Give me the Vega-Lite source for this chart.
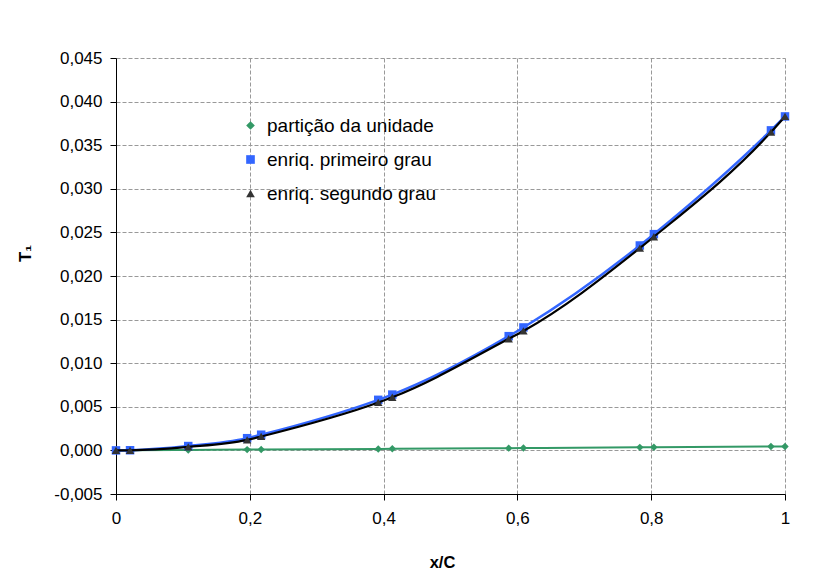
{
  "$schema": "https://vega.github.io/schema/vega-lite/v6.json",
  "width": 669,
  "height": 436,
  "autosize": {"type": "none"},
  "padding": {"left": 116, "top": 58, "right": 37, "bottom": 78},
  "background": "white",
  "config": {
    "locale": {"number": {"decimal": ",", "thousands": ".", "grouping": [3], "currency": ["", ""], "minus": "-"}},
    "view": {"stroke": null},
    "font": "Liberation Sans",
    "axis": {
      "domainColor": "#000000",
      "domainWidth": 1,
      "tickColor": "#000000",
      "tickSize": 6,
      "labelColor": "#000000",
      "labelFont": "Liberation Sans",
      "labelFontSize": 17,
      "titleFont": "Liberation Sans",
      "titleFontWeight": "bold",
      "titleFontSize": 16.5,
      "titleColor": "#000000",
      "gridColor": "#999999",
      "gridDash": [4, 2],
      "gridWidth": 1,
      "labelFlush": false,
      "labelOverlap": false
    },
    "legend": {
      "orient": "none",
      "legendX": 125,
      "legendY": 58,
      "padding": 0,
      "labelFont": "Liberation Sans",
      "labelFontSize": 19,
      "labelColor": "#000000",
      "labelLimit": 400,
      "symbolSize": 75,
      "symbolStrokeWidth": 0,
      "rowPadding": 14,
      "labelOffset": 7
    }
  },
  "datasets": {
    "particao": [
      {"x": 0, "T": 0, "serie": "partição da unidade"},
      {"x": 0.021, "T": 0.00001, "serie": "partição da unidade"},
      {"x": 0.108, "T": 0.00005, "serie": "partição da unidade"},
      {"x": 0.196, "T": 0.00009, "serie": "partição da unidade"},
      {"x": 0.217, "T": 0.0001, "serie": "partição da unidade"},
      {"x": 0.392, "T": 0.00017, "serie": "partição da unidade"},
      {"x": 0.413, "T": 0.00018, "serie": "partição da unidade"},
      {"x": 0.587, "T": 0.00026, "serie": "partição da unidade"},
      {"x": 0.609, "T": 0.00027, "serie": "partição da unidade"},
      {"x": 0.783, "T": 0.00035, "serie": "partição da unidade"},
      {"x": 0.804, "T": 0.00036, "serie": "partição da unidade"},
      {"x": 0.979, "T": 0.00044, "serie": "partição da unidade"},
      {"x": 1, "T": 0.00045, "serie": "partição da unidade"}
    ],
    "primeiro": [
      {"x": 0, "T": 0, "serie": "enriq. primeiro grau"},
      {"x": 0.021, "T": 0.00002, "serie": "enriq. primeiro grau"},
      {"x": 0.108, "T": 0.0005, "serie": "enriq. primeiro grau"},
      {"x": 0.196, "T": 0.0014, "serie": "enriq. primeiro grau"},
      {"x": 0.217, "T": 0.0018, "serie": "enriq. primeiro grau"},
      {"x": 0.392, "T": 0.0058, "serie": "enriq. primeiro grau"},
      {"x": 0.413, "T": 0.0064, "serie": "enriq. primeiro grau"},
      {"x": 0.587, "T": 0.0131, "serie": "enriq. primeiro grau"},
      {"x": 0.609, "T": 0.0141, "serie": "enriq. primeiro grau"},
      {"x": 0.783, "T": 0.0235, "serie": "enriq. primeiro grau"},
      {"x": 0.804, "T": 0.0248, "serie": "enriq. primeiro grau"},
      {"x": 0.979, "T": 0.0367, "serie": "enriq. primeiro grau"},
      {"x": 1, "T": 0.0383, "serie": "enriq. primeiro grau"}
    ],
    "segundo": [
      {"x": 0, "T": 0, "serie": "enriq. segundo grau"},
      {"x": 0.021, "T": 0.00001, "serie": "enriq. segundo grau"},
      {"x": 0.108, "T": 0.0004, "serie": "enriq. segundo grau"},
      {"x": 0.196, "T": 0.0012, "serie": "enriq. segundo grau"},
      {"x": 0.217, "T": 0.0016, "serie": "enriq. segundo grau"},
      {"x": 0.392, "T": 0.0055, "serie": "enriq. segundo grau"},
      {"x": 0.413, "T": 0.0061, "serie": "enriq. segundo grau"},
      {"x": 0.587, "T": 0.0128, "serie": "enriq. segundo grau"},
      {"x": 0.609, "T": 0.0137, "serie": "enriq. segundo grau"},
      {"x": 0.783, "T": 0.0232, "serie": "enriq. segundo grau"},
      {"x": 0.804, "T": 0.0245, "serie": "enriq. segundo grau"},
      {"x": 0.979, "T": 0.0365, "serie": "enriq. segundo grau"},
      {"x": 1, "T": 0.0383, "serie": "enriq. segundo grau"}
    ]
  },
  "encoding": {
    "x": {
      "field": "x",
      "type": "quantitative",
      "scale": {"domain": [0, 1], "nice": false, "zero": false},
      "axis": {
        "values": [0, 0.2, 0.4, 0.6, 0.8, 1],
        "format": ".1~f",
        "labelPadding": 10,
        "title": "x/C",
        "titleX": 326,
        "titleY": 73,
        "titleAlign": "center",
        "titleBaseline": "alphabetic",
        "grid": true
      }
    },
    "y": {
      "field": "T",
      "type": "quantitative",
      "scale": {"domain": [-0.005, 0.045], "nice": false, "zero": false},
      "axis": {
        "values": [-0.005, 0, 0.005, 0.01, 0.015, 0.02, 0.025, 0.03, 0.035, 0.04, 0.045],
        "format": ".3f",
        "labelPadding": 8,
        "title": "T₁",
        "titleX": -91,
        "titleY": 195,
        "titleAlign": "center",
        "titleBaseline": "middle",
        "grid": true
      }
    }
  },
  "layer": [
    {
      "data": {"name": "particao"},
      "mark": {"type": "line", "color": "#339966", "strokeWidth": 2, "interpolate": "monotone"},
      "encoding": {}
    },
    {
      "data": {"name": "particao"},
      "mark": {"type": "point", "filled": true, "opacity": 1, "size": 55},
      "encoding": {
        "fill": {"field": "serie", "type": "nominal", "title": null, "scale": {"domain": ["partição da unidade", "enriq. primeiro grau", "enriq. segundo grau"], "range": ["#339966", "#3366FF", "#333333"]}},
        "shape": {"field": "serie", "type": "nominal", "title": null, "scale": {"domain": ["partição da unidade", "enriq. primeiro grau", "enriq. segundo grau"], "range": ["diamond", "square", "triangle-up"]}}
      }
    },
    {
      "data": {"name": "primeiro"},
      "mark": {"type": "line", "color": "#3366FF", "strokeWidth": 2.5, "interpolate": "monotone"},
      "encoding": {}
    },
    {
      "data": {"name": "primeiro"},
      "mark": {"type": "point", "filled": true, "opacity": 1, "size": 72},
      "encoding": {
        "fill": {"field": "serie", "type": "nominal", "title": null},
        "shape": {"field": "serie", "type": "nominal", "title": null}
      }
    },
    {
      "data": {"name": "segundo"},
      "mark": {"type": "line", "color": "#000000", "strokeWidth": 2.2, "interpolate": "monotone"},
      "encoding": {}
    },
    {
      "data": {"name": "segundo"},
      "mark": {"type": "point", "filled": true, "opacity": 1, "size": 72},
      "encoding": {
        "fill": {"field": "serie", "type": "nominal", "title": null},
        "shape": {"field": "serie", "type": "nominal", "title": null}
      }
    }
  ]
}
